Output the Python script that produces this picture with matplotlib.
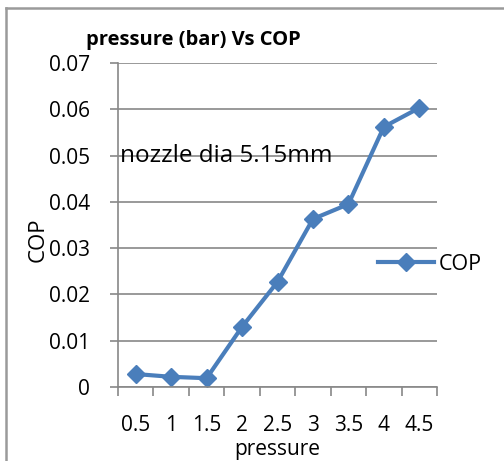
import numpy as np
import matplotlib
matplotlib.use("Agg")
import matplotlib.pyplot as plt
from matplotlib.lines import Line2D

# data
pressure = ["0.5", "1", "1.5", "2", "2.5", "3", "3.5", "4", "4.5"]
cop = [0.0028, 0.0022, 0.0019, 0.0130, 0.0227, 0.0363, 0.0395, 0.0562, 0.0603]
y_ticks = [0, 0.01, 0.02, 0.03, 0.04, 0.05, 0.06, 0.07]
y_labels = ["0", "0.01", "0.02", "0.03", "0.04", "0.05", "0.06", "0.07"]

plt.rcParams['font.family'] = ['Open Sans', 'DejaVu Sans']

W, H = 504, 461
fig = plt.figure(figsize=(W / 100, H / 100), dpi=100)

# outer chart border (left and top edge visible)
fig.add_artist(Line2D([6 / W, 6 / W], [0, 1 - 8 / H], transform=fig.transFigure,
                      color="#9a9a9a", lw=1.8))
fig.add_artist(Line2D([6 / W, 1], [1 - 8 / H, 1 - 8 / H], transform=fig.transFigure,
                      color="#9a9a9a", lw=1.8))

left, right = 118 / W, 437 / W
bottom, top = 1 - 387 / H, 1 - 63 / H
ax = fig.add_axes([left, bottom, right - left, top - bottom])

fs = 15

x = np.arange(len(pressure))
line, = ax.plot(x, cop, color="#4a7ebb", lw=3, marker="D", markersize=9,
                markeredgecolor="#4a7ebb", markerfacecolor="#4a7ebb", label="COP")

ax.set_xlim(-0.5, len(pressure) - 0.5)
ax.set_ylim(0, 0.07)

# category boundaries as ticks, labels centered in categories
ax.set_xticks(np.arange(-0.5, len(pressure), 1.0))
ax.set_xticklabels([])
ax.set_xticks(x, minor=True)
ax.set_xticklabels(pressure, minor=True)
ax.tick_params(axis="x", which="major", direction="out", length=6.5, width=1.2, color="#888888")
ax.tick_params(axis="x", which="minor", length=0, pad=20, labelsize=fs)

ax.set_yticks(y_ticks)
ax.set_yticklabels(y_labels)
ax.tick_params(axis="y", direction="out", length=6, width=1.2, color="#888888", pad=14, labelsize=fs)

ax.grid(axis="y", color="#888888", lw=1.2)
ax.set_axisbelow(True)
for s in ["top", "right"]:
    ax.spines[s].set_visible(False)
for s in ["left", "bottom"]:
    ax.spines[s].set_color("#888888")
    ax.spines[s].set_linewidth(1.2)

ax.set_xlabel("pressure", fontsize=fs)
ax.xaxis.set_label_coords(0.5, -(450 - 387) / (387 - 63), transform=ax.transAxes)
ax.xaxis.label.set_va("center")
ax.set_ylabel("COP", fontsize=16)
ax.yaxis.set_label_coords(-(118 - 38) / (437 - 118), (387 - 240) / (387 - 63))
ax.yaxis.label.set_va("center")

fig.text(86 / W, 1 - 40 / H, "pressure (bar) Vs COP", fontsize=14.5, fontweight="bold",
         ha="left", va="center")
ax.text(0.005, 0.05, "nozzle dia 5.15mm", fontsize=17.5, ha="left", va="center",
        transform=ax.get_yaxis_transform())

fig.legend(handles=[line], loc="center left", bbox_to_anchor=(378 / W, 1 - 264 / H),
           frameon=False, fontsize=15.5, handlelength=2.6, handletextpad=0.2,
           borderpad=0, borderaxespad=0)

fig.savefig("out.png", dpi=100)
